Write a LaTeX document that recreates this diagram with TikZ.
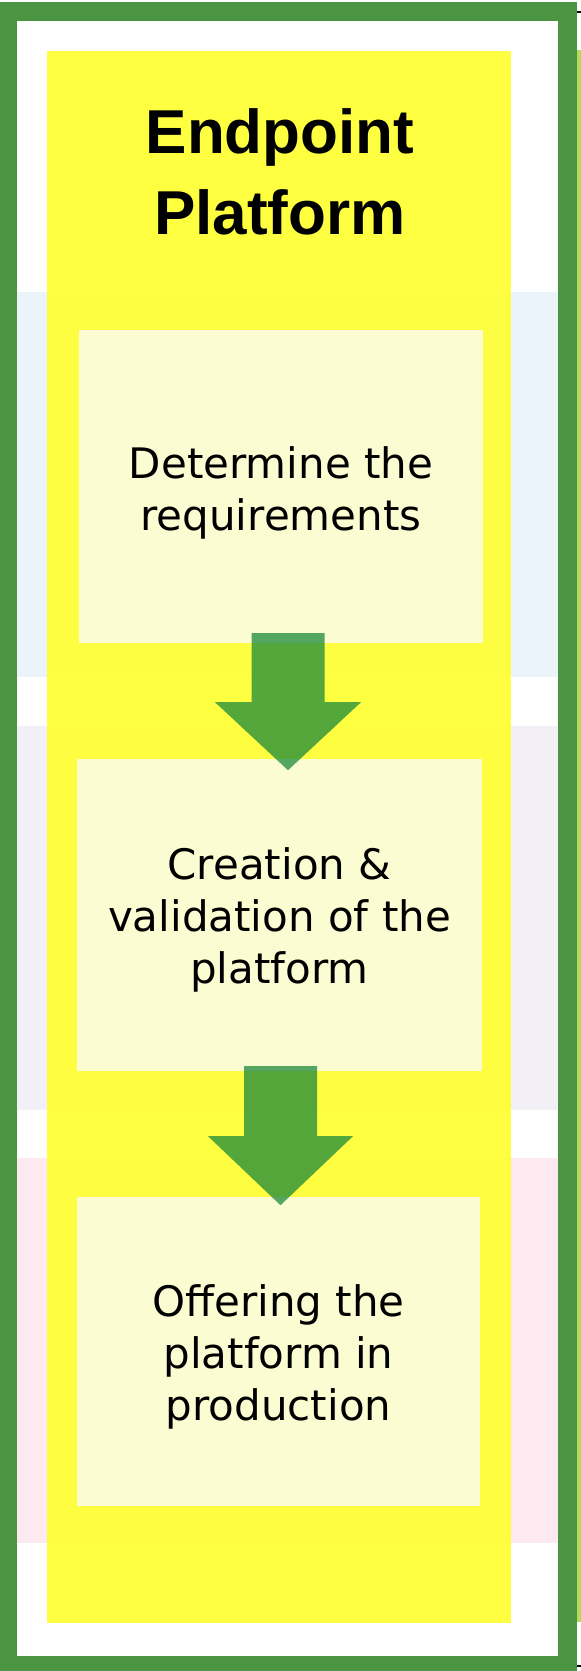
\documentclass[tikz,border=0pt]{standalone}
\usepackage{fontspec}
\usetikzlibrary{calc}
\newfontfamily\titlefont{Liberation Sans}
\newfontfamily\boxfont{DejaVu Sans}
\definecolor{framegreen}{RGB}{74,148,66}
\definecolor{limestrip}{RGB}{181,217,92}
\definecolor{colyellow}{RGB}{255,255,51}
\definecolor{boxfill}{RGB}{252,252,210}
\definecolor{bandblue}{RGB}{234,244,250}
\definecolor{bandlav}{RGB}{242,240,246}
\definecolor{bandpink}{RGB}{253,233,240}
\definecolor{arrowgreen}{RGB}{28,138,58}
\begin{document}
\begin{tikzpicture}[x=1pt,y=-1pt,
  stepbox/.style={fill=boxfill, draw=none, inner sep=0pt},
  steptext/.style={inner sep=0pt, align=center,
    font=\boxfont\fontsize{42}{52}\selectfont},
  blockarrow/.style={fill=arrowgreen, fill opacity=0.75, draw=none},
  titletext/.style={font=\titlefont\bfseries\fontsize{62}{81}\selectfont, align=center, inner sep=0pt}]

\useasboundingbox (0,0) rectangle (581,1671);
\fill[white] (0,0) rectangle (581,1671);
% frame
\fill[framegreen] (0,2) rectangle (577,1671);
\fill[white] (17,21) rectangle (558,1656);
\fill[limestrip] (577,50) rectangle (581,1622);
\fill[black] (577,11) rectangle (581,12.5);
\fill[black] (577,1665) rectangle (581,1667);
% bands
\fill[bandblue] (17,292) rectangle (558,677);
\fill[bandlav] (17,726) rectangle (558,1110);
\fill[bandpink] (17,1158) rectangle (558,1543);
% yellow column
\fill[colyellow, fill opacity=0.93] (47,51) rectangle (511,1623);

\node[titletext] (title) at (280,172) {Endpoint\\Platform};

\node[stepbox, minimum width=404pt, minimum height=313pt] (b1) at (281,486.5) {};
\node[stepbox, minimum width=405pt, minimum height=312pt] (b2) at (279.5,915) {};
\node[stepbox, minimum width=403pt, minimum height=309pt] (b3) at (278.5,1351.5) {};

\node[steptext] (t1) at ($(b1.center)+(0,6)$) {Determine the\\requirements};
\node[steptext] (t2) at ($(b2.center)+(0,5)$) {Creation \&\\validation of the\\platform};
\node[steptext] (t3) at ($(b3.center)+(0,5)$) {Offering the\\platform in\\production};

\coordinate (a1) at ($(b1.south)+(7,-10)$);
\coordinate (a2) at ($(b2.south)+(1,-5)$);
\begin{scope}[shift={(a1)}]
\fill[blockarrow] (-36.5,0) -- (36.5,0) -- (36.5,69) -- (73,69) -- (0,137) -- (-73,69) -- (-36.5,69) -- cycle;
\end{scope}
\begin{scope}[shift={(a2)}]
\fill[blockarrow] (-36.5,0) -- (36.5,0) -- (36.5,70) -- (72.5,70) -- (0,139) -- (-72.5,70) -- (-36.5,70) -- cycle;
\end{scope}
\end{tikzpicture}
\end{document}
